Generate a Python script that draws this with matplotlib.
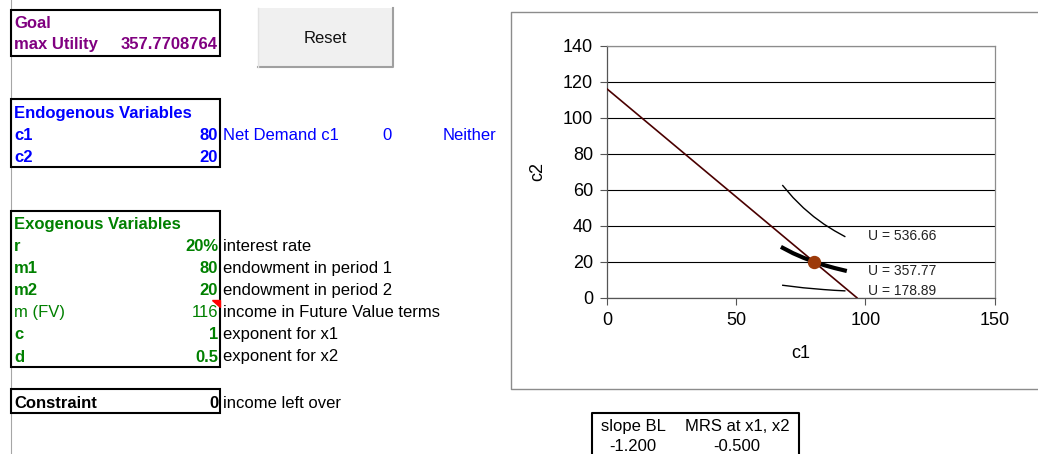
import matplotlib.pyplot as plt
from matplotlib.patches import Rectangle, Polygon

plt.rcParams['font.family'] = ['Liberation Sans', 'DejaVu Sans']

# spreadsheet values
max_utility = '357.7708764'
endo_names = ['c1', 'c2']
endo_values = ['80', '20']
net_demand = ['Net Demand c1', '0', 'Neither']
exo_names = ['r', 'm1', 'm2', 'm (FV)', 'c', 'd']
exo_values = ['20%', '80', '20', '116', '1', '0.5']
exo_desc = ['interest rate', 'endowment in period 1', 'endowment in period 2',
            'income in Future Value terms', 'exponent for x1', 'exponent for x2']
constraint_value = '0'
slope_heads = ['slope BL', 'MRS at x1, x2']
slope_values = ['-1.200', '-0.500']

# chart data
budget_c1 = [0, 96.67]
budget_c2 = [116, 0]
ic_c1 = [68, 72, 76, 80, 84, 88, 92]
ic_high = [62.3, 55.6, 49.9, 45.0, 40.8, 37.2, 34.0]
ic_opt = [27.7, 24.7, 22.2, 20.0, 18.1, 16.5, 15.1]
ic_low = [6.9, 6.2, 5.5, 5.0, 4.5, 4.1, 3.8]
ic_labels = ['U = 536.66', 'U = 357.77', 'U = 178.89']
opt_c1 = [80]
opt_c2 = [20]

W, H = 1038, 454
fig = plt.figure(figsize=(W / 100, H / 100), dpi=100)
bg = fig.add_axes([0, 0, 1, 1])
bg.set_xlim(0, W)
bg.set_ylim(H, 0)
bg.axis('off')

purple = '#800080'
blue = '#0000ff'
green = '#008000'
fs = 12
dy = 1.5  # text nudge

# column border line
bg.plot([11, 11], [0, H], color='#a6a6a6', lw=0.8)

def box(x0, y0, x1, y1):
    bg.add_patch(Rectangle((x0, y0), x1 - x0, y1 - y0, fill=False,
                           edgecolor='black', lw=1.5, zorder=3))

# goal block
box(11, 9.5, 220, 56)
bg.text(14, 22 + dy, 'Goal', color=purple, fontsize=fs, fontweight='bold', va='center')
bg.text(14, 43 + dy, 'max Utility', color=purple, fontsize=fs, fontweight='bold', va='center')
bg.text(218, 43 + dy, max_utility, color=purple, fontsize=fs, fontweight='bold',
        va='center', ha='right')

# reset button
bg.add_patch(Rectangle((258, 8), 135, 59, facecolor='#f0f0f0', edgecolor='none'))
bg.plot([258, 393, 393], [67, 67, 8], color='#a0a0a0', lw=1.5)
bg.plot([258, 258], [8, 67], color='#e3e3e3', lw=1)
bg.text(325.5, 37 + dy, 'Reset', fontsize=fs, ha='center', va='center', color='#111111')

# endogenous block
box(11, 99, 220, 167)
bg.text(14, 112 + dy, 'Endogenous Variables', color=blue, fontsize=fs,
        fontweight='bold', va='center')
for i, (n, v) in enumerate(zip(endo_names, endo_values)):
    y = 133.5 + i * 22 + dy
    bg.text(14, y, n, color=blue, fontsize=fs, fontweight='bold', va='center')
    bg.text(218, y, v, color=blue, fontsize=fs, fontweight='bold', va='center', ha='right')
bg.text(223, 133.5 + dy, net_demand[0], color=blue, fontsize=fs, va='center')
bg.text(387, 133.5 + dy, net_demand[1], color=blue, fontsize=fs, va='center', ha='center')
bg.text(443, 133.5 + dy, net_demand[2], color=blue, fontsize=fs, va='center')

# exogenous block
box(11, 210.5, 220, 367)
bg.text(14, 223 + dy, 'Exogenous Variables', color=green, fontsize=fs,
        fontweight='bold', va='center')
for i, (n, v, d) in enumerate(zip(exo_names, exo_values, exo_desc)):
    y = 245 + i * 22.1 + dy
    wt = 'normal' if n == 'm (FV)' else 'bold'
    bg.text(14, y, n, color=green, fontsize=fs, fontweight=wt, va='center')
    bg.text(218, y, v, color=green, fontsize=fs, fontweight=wt, va='center', ha='right')
    bg.text(223, y, d, color='black', fontsize=fs, va='center')
bg.add_patch(Polygon([[212, 300], [220, 300], [220, 307]], color='red', zorder=4))

# constraint
box(11, 389, 220, 412.5)
bg.text(14, 401.5 + dy, 'Constraint', fontsize=fs, fontweight='bold', va='center')
bg.text(218, 401.5 + dy, constraint_value, fontsize=fs, fontweight='bold', va='center', ha='right')
bg.text(223, 401.5 + dy, 'income left over', fontsize=fs, va='center')

# chart frame
bg.plot([W, 511, 511, W], [11.7, 11.7, 389, 389], color='#8c8c8c', lw=1)

# slope box
bg.plot([592, 592, 799, 799], [H, 412.5, 412.5, H], color='black', lw=1.5)
for i, (h, v) in enumerate(zip(slope_heads, slope_values)):
    xc = 633 if i == 0 else 737
    bg.text(xc, 425 + dy, h, fontsize=fs, ha='center', va='center')
    bg.text(xc, 445 + dy, v, fontsize=fs, ha='center', va='center')

# chart
ax = fig.add_axes([607 / W, 1 - 297.7 / H, (994.7 - 607) / W, (297.7 - 45.7) / H])
ax.set_xlim(0, 150)
ax.set_ylim(0, 140)
ax.set_xticks([0, 50, 100, 150])
ax.set_yticks(range(0, 141, 20))
ax.tick_params(labelsize=13, length=5, width=0.8, color='#555555', pad=5)
ax.yaxis.grid(True, color='black', lw=0.8)
ax.set_axisbelow(True)
for s in ax.spines.values():
    s.set_color('#8c8c8c')
    s.set_linewidth(0.9)
ax.spines['left'].set_color('#555555')
ax.spines['bottom'].set_color('#555555')
ax.set_xlabel('c1', fontsize=13, labelpad=12)
ax.set_ylabel('c2', fontsize=13, labelpad=12)

ax.plot(budget_c1, budget_c2, color='#4a0000', lw=1.2, zorder=3)
ax.plot(ic_c1, ic_high, color='black', lw=1.0, zorder=3)
ax.plot(ic_c1, ic_opt, color='black', lw=3.0, zorder=3)
ax.plot(ic_c1, ic_low, color='black', lw=1.0, zorder=3)
for curve, lab in zip([ic_high, ic_opt, ic_low], ic_labels):
    ax.annotate(lab, (ic_c1[-1], curve[-1]), xytext=(17, 0), textcoords='offset points',
                fontsize=10, va='center', color='#222222', annotation_clip=False)
ax.plot(opt_c1, opt_c2, 'o', color='#9c3a0a', markersize=8.6, zorder=5)

fig.savefig('out.png', dpi=100)
